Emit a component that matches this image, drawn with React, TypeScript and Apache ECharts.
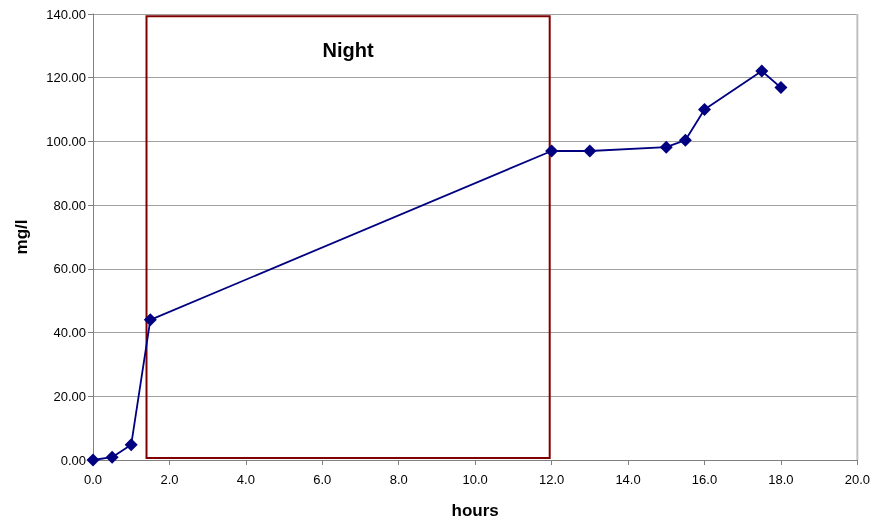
import React, { useEffect, useRef } from "react";
import * as echarts from "echarts";

const hours = [0, 0.5, 1, 1.5, 12, 13, 15, 15.5, 16, 17.5, 18];
const mgPerL = [0, 0.9, 4.8, 44.0, 97.0, 97.0, 98.2, 100.4, 110.0, 122.1, 116.9];
const nightStart = 1.4;
const nightEnd = 11.95;
const nightTop = 139.3;
const nightBottom = 0.6;
const nightLabel = "Night";

export default function App() {
  const ref = useRef<HTMLDivElement>(null);
  useEffect(() => {
    if (!ref.current) return;
    const chart = echarts.init(ref.current, null, { renderer: "svg" });
    const font = "Arial, 'Liberation Sans', sans-serif";
    chart.setOption({
      animation: false,
      textStyle: { fontFamily: font },
      grid: { left: 93, right: 13, top: 14, bottom: 61 },
      xAxis: {
        type: "value",
        min: 0,
        max: 20,
        interval: 2,
        name: "hours",
        nameLocation: "middle",
        nameGap: 42,
        nameTextStyle: { fontWeight: "bold", fontSize: 17, color: "#000", fontFamily: font },
        axisLine: { show: true, lineStyle: { color: "#808080", width: 1 } },
        axisTick: { show: true, inside: false, length: 5, lineStyle: { color: "#808080" } },
        axisLabel: { color: "#000", fontSize: 13, margin: 13, formatter: (v: number) => v.toFixed(1) },
        splitLine: { show: false },
      },
      yAxis: {
        type: "value",
        min: 0,
        max: 140,
        interval: 20,
        name: "mg/l",
        nameLocation: "middle",
        nameGap: 63,
        nameRotate: 90,
        nameTextStyle: { fontWeight: "bold", fontSize: 17, color: "#000", fontFamily: font },
        axisLine: { show: true, lineStyle: { color: "#808080", width: 1 } },
        axisTick: { show: true, inside: false, length: 5, lineStyle: { color: "#808080" } },
        axisLabel: { color: "#000", fontSize: 13, margin: 7, formatter: (v: number) => v.toFixed(2) },
        splitLine: { show: true, lineStyle: { color: "#a0a0a0", width: 1 } },
      },
      series: [
        {
          type: "line",
          data: hours.map((h, i) => [h, mgPerL[i]]),
          symbol: "diamond",
          symbolSize: 13,
          lineStyle: { color: "#000080", width: 1.8 },
          itemStyle: { color: "#000080" },
          z: 3,
          markArea: {
            silent: true,
            itemStyle: { color: "rgba(0,0,0,0)", borderColor: "#800000", borderWidth: 2 },
            label: {
              show: true,
              position: "insideTop",
              distance: 25,
              color: "#000",
              fontSize: 20,
              fontWeight: "bold",
              fontFamily: font,
            },
            data: [[
              { name: nightLabel, coord: [nightStart, nightTop] },
              { coord: [nightEnd, nightBottom] },
            ]],
          },
        },
        {
          type: "line",
          data: [[20, 0], [20, 140]],
          symbol: "none",
          lineStyle: { color: "#c0c0c0", width: 2 },
          silent: true,
          z: 1,
        },
      ],
    });
    return () => chart.dispose();
  }, []);
  return (
    <div
      ref={ref}
      style={{ position: "fixed", left: 0, top: 0, width: 873, height: 524 }}
    />
  );
}
